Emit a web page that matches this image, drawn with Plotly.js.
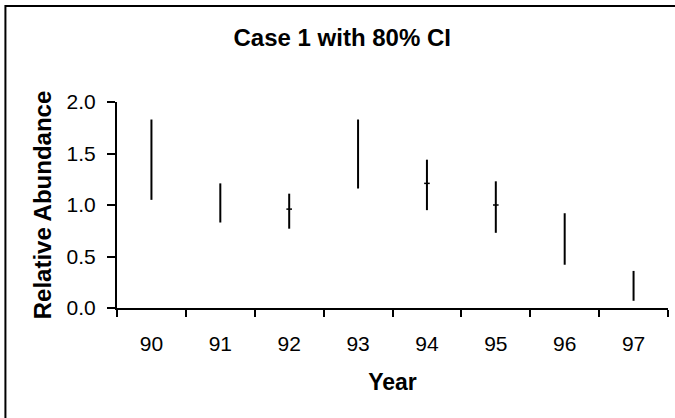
<!DOCTYPE html>
<html>
<head>
<meta charset="utf-8">
<script src="https://cdn.plot.ly/plotly-3.0.1.min.js"></script>
<style>html,body{margin:0;padding:0;background:#fff;}#chart{width:675px;height:418px;}</style>
</head>
<body>
<div id="chart"></div>
<script>
// Data (Case 1 with 80% CI)
const years = ['90', '91', '92', '93', '94', '95', '96', '97'];
const high  = [1.83, 1.21, 1.11, 1.83, 1.44, 1.23, 0.92, 0.36];
const low   = [1.05, 0.83, 0.77, 1.16, 0.95, 0.73, 0.42, 0.07];
const close = [null, null, 0.96, null, 1.21, 1.00, null, null];

const FONT = 'Liberation Sans, Arial, sans-serif';

const rangeTrace = {
  type: 'scatter', mode: 'markers', x: years, y: low,
  marker: {size: 1, opacity: 0},
  error_y: {
    type: 'data', symmetric: false,
    array: high.map((h, i) => h - low[i]),
    arrayminus: low.map(() => 0),
    width: 0, thickness: 2, color: '#000'
  },
  hoverinfo: 'skip', showlegend: false
};
const closeTrace = {
  type: 'scatter', mode: 'markers', x: years, y: close,
  marker: {symbol: 'line-ew', size: 4, line: {width: 1.5, color: '#000'}},
  showlegend: false, hoverinfo: 'skip'
};

const bounds = years.map((_, i) => i - 0.5).concat([years.length - 0.5]);

const layout = {
  width: 675, height: 418,
  margin: {l: 117, r: 7, t: 102, b: 110},
  paper_bgcolor: '#fff', plot_bgcolor: '#fff',
  font: {family: FONT, color: '#000'},
  title: {text: '<b>Case 1 with 80% CI</b>', font: {size: 24, family: FONT, color: '#000'},
          xref: 'container', x: 0.507, xanchor: 'center', yref: 'container', y: 0.909, yanchor: 'middle'},
  xaxis: {
    type: 'category', categoryarray: years, range: [-0.5, years.length - 0.5],
    tickson: 'boundaries', ticks: 'outside', ticklen: 7, tickwidth: 2, tickcolor: '#000',
    showline: true, linewidth: 2, linecolor: '#000', showgrid: false, zeroline: false,
    tickfont: {size: 21, family: FONT}, ticklabelstandoff: 16,
    title: {text: '<b>Year</b>', font: {size: 23, family: FONT}, standoff: 20},
    fixedrange: true
  },
  xaxis2: {
    overlaying: 'x', anchor: 'y', range: [-0.5, years.length - 0.5],
    tickmode: 'array', tickvals: bounds, ticks: 'inside', ticklen: 7, tickwidth: 2, tickcolor: '#000',
    showticklabels: false, showline: false, showgrid: false, zeroline: false
  },
  yaxis: {
    range: [0, 2], tickmode: 'linear', tick0: 0, dtick: 0.5, tickformat: '.1f',
    ticks: 'outside', ticklen: 8, tickwidth: 2, tickcolor: '#000',
    showline: true, linewidth: 2, linecolor: '#000', showgrid: false, zeroline: false,
    tickfont: {size: 21, family: FONT}, ticklabelstandoff: 7,
    title: {text: '<b>Relative Abundance</b>', font: {size: 24, family: FONT}, standoff: 8},
    fixedrange: true
  },
  yaxis2: {
    overlaying: 'y', anchor: 'x', side: 'left', range: [0, 2],
    tickmode: 'linear', tick0: 0, dtick: 0.5,
    ticks: 'inside', ticklen: 8, tickwidth: 2, tickcolor: '#000',
    showticklabels: false, showline: false, showgrid: false, zeroline: false
  },
  shapes: [{
    type: 'rect', xref: 'paper', yref: 'paper',
    x0: -0.2025, x1: 1.3, y0: -1.0, y1: 1.466,
    line: {color: '#000', width: 2}, fillcolor: 'rgba(0,0,0,0)', layer: 'below'
  }],
  showlegend: false
};

Plotly.newPlot('chart', [rangeTrace, closeTrace], layout, {displayModeBar: false, staticPlot: true});
</script>
</body>
</html>
